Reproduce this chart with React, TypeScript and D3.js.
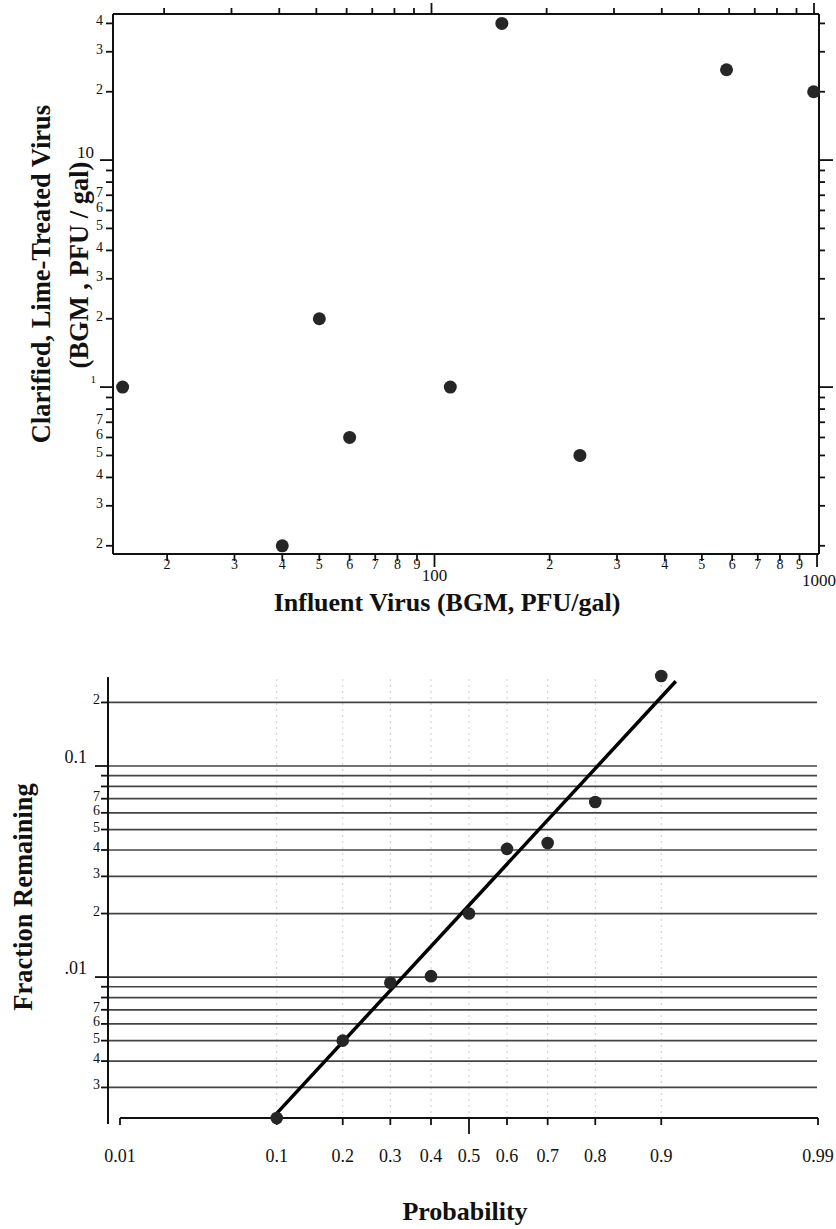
import React from "react";
import * as d3 from "d3";

// ---------- Top chart data ----------
const influent = [15.3, 40, 50, 60, 110, 150, 240, 580, 980];
const treated = [1, 0.2, 2, 0.6, 1, 40, 0.5, 25, 20];

const topXTicks = [20, 30, 40, 50, 60, 70, 80, 90, 100, 200, 300, 400, 500, 600, 700, 800, 900, 1000];
const topXLabels = ["2", "3", "4", "5", "6", "7", "8", "9", "100", "2", "3", "4", "5", "6", "7", "8", "9", "1000"];
const topXMajor = [100, 1000];

const topYTicks = [0.2, 0.3, 0.4, 0.5, 0.6, 0.7, 0.8, 0.9, 1, 2, 3, 4, 5, 6, 7, 8, 9, 10, 20, 30, 40];
const topYLabels = ["2", "3", "4", "5", "6", "7", "", "", "1", "2", "3", "4", "5", "6", "7", "", "", "10", "2", "3", "4"];
const topYMajor = [1, 10];

// ---------- Bottom chart data ----------
const probability = [0.1, 0.2, 0.3, 0.4, 0.5, 0.6, 0.7, 0.8, 0.9];
const fraction = [0.00215, 0.005, 0.0094, 0.0101, 0.02, 0.0405, 0.0432, 0.0675, 0.267];
const fitProb = [0.1, 0.916];
const fitFraction = [0.00226, 0.252];

const probTicks = [0.01, 0.1, 0.2, 0.3, 0.4, 0.5, 0.6, 0.7, 0.8, 0.9, 0.99];
const probLabels = ["0.01", "0.1", "0.2", "0.3", "0.4", "0.5", "0.6", "0.7", "0.8", "0.9", "0.99"];
const probGrid = [0.1, 0.2, 0.3, 0.4, 0.5, 0.6, 0.7, 0.8, 0.9];

const fracTicks = [0.2, 0.1, 0.09, 0.08, 0.07, 0.06, 0.05, 0.04, 0.03, 0.02, 0.01, 0.009, 0.008, 0.007, 0.006, 0.005, 0.004, 0.003];
const fracLabels = ["2", "0.1", "", "", "7", "6", "5", "4", "3", "2", ".01", "", "", "7", "6", "5", "4", "3"];
const fracMajor = [0.1, 0.01];

// inverse standard normal CDF (Acklam) for probability axis
function probit(p: number): number {
  const a = [-3.969683028665376e1, 2.209460984245205e2, -2.759285104469687e2, 1.38357751867269e2, -3.066479806614716e1, 2.506628277459239];
  const b = [-5.447609879822406e1, 1.615858368580409e2, -1.556989798598866e2, 6.680131188771972e1, -1.328068155288572e1];
  const c = [-7.784894002430293e-3, -3.223964580411365e-1, -2.400758277161838, -2.549671324507973, 4.374664141464968, 2.938163982698783];
  const d = [7.784695709041462e-3, 3.224671290700398e-1, 2.445134137142996, 3.754408661907416];
  const plow = 0.02425;
  if (p < plow) {
    const q = Math.sqrt(-2 * Math.log(p));
    return (((((c[0] * q + c[1]) * q + c[2]) * q + c[3]) * q + c[4]) * q + c[5]) / ((((d[0] * q + d[1]) * q + d[2]) * q + d[3]) * q + 1);
  }
  if (p <= 1 - plow) {
    const q = p - 0.5;
    const r = q * q;
    return ((((((a[0] * r + a[1]) * r + a[2]) * r + a[3]) * r + a[4]) * r + a[5]) * q) / (((((b[0] * r + b[1]) * r + b[2]) * r + b[3]) * r + b[4]) * r + 1);
  }
  const q = Math.sqrt(-2 * Math.log(1 - p));
  return -(((((c[0] * q + c[1]) * q + c[2]) * q + c[3]) * q + c[4]) * q + c[5]) / ((((d[0] * q + d[1]) * q + d[2]) * q + d[3]) * q + 1);
}

const FONT = "'Liberation Serif', 'Times New Roman', Times, serif";

export default function App() {
  // top chart geometry
  const tL = 113, tR = 819, tT = 14, tB = 554;
  const xT = d3.scaleLog().domain([14.44, 1012]).range([tL, tR]);
  const yT = d3.scaleLog().domain([0.184, 44]).range([tB, tT]);

  // bottom chart geometry
  const bAxisX = 108, bL = 120, bR = 818, bTop = 677, bB = 1118, gridR = 817;
  const zDom = [probit(0.01), probit(0.99)];
  const zScale = d3.scaleLinear().domain(zDom).range([bL, bR]);
  const xB = (p: number) => zScale(probit(p));
  const yB = d3.scaleLog().domain([0.00215, 0.264]).range([bB, bTop]);

  const fitLine = d3.line<number>()
    .x((_, i) => xB(fitProb[i]))
    .y((_, i) => yB(fitFraction[i]));

  const ink = "#111";
  return (
    <svg width={836} height={1229} style={{ position: "absolute", left: 0, top: 0, background: "#fff" }} fontFamily={FONT}>
      <rect x={0} y={0} width={836} height={1229} fill="#fff" />
      {/* ================= TOP CHART ================= */}
      <g>
        <line x1={tL} y1={tT} x2={tL} y2={tB} stroke={ink} strokeWidth={2} />
        <line x1={tL} y1={tB} x2={tR} y2={tB} stroke={ink} strokeWidth={2} />
        <line x1={tL} y1={tT} x2={tR} y2={tT} stroke={ink} strokeWidth={2} />
        <line x1={tR} y1={tT} x2={tR} y2={tB} stroke={ink} strokeWidth={2} />
        {topXTicks.map((v, i) => {
          const x = xT(v);
          const major = topXMajor.includes(v);
          return (
            <g key={"tx" + i}>
              <line x1={x} y1={tB} x2={x} y2={tB + (major ? 13 : 7)} stroke={ink} strokeWidth={1.8} />
              <line x1={x - 3} y1={tT} x2={x - 3} y2={tT - (major ? 11 : 6)} stroke={ink} strokeWidth={1.8} />
              <text
                x={v === 1000 ? x + 2 : x}
                y={v === 1000 ? 586 : v === 100 ? 581 : 569}
                textAnchor="middle"
                fontSize={major ? 17 : 14}
                fill={ink}
              >
                {topXLabels[i]}
              </text>
            </g>
          );
        })}
        {topYTicks.map((v, i) => {
          const y = yT(v);
          const major = topYMajor.includes(v);
          const lbl = topYLabels[i];
          return (
            <g key={"ty" + i}>
              <line x1={tL} y1={y} x2={tL - (major ? 13 : 7)} y2={y} stroke={ink} strokeWidth={1.8} />
              <line x1={tR} y1={y} x2={tR + (major ? 14 : 6)} y2={y} stroke={ink} strokeWidth={1.8} />
              {lbl && (
                <text
                  x={v === 10 ? 94 : v === 1 ? 96 : 103}
                  y={v === 10 ? y - 2 : v === 1 ? y - 4 : y + 2}
                  textAnchor="end"
                  fontSize={v === 10 ? 17 : v === 1 ? 11 : 14}
                  fill={ink}
                >
                  {lbl}
                </text>
              )}
            </g>
          );
        })}
        {influent.map((v, i) => (
          <circle key={"tp" + i} cx={xT(v)} cy={yT(treated[i])} r={6.5} fill="#262626" />
        ))}
        <text x={447} y={611} textAnchor="middle" fontSize={26} fontWeight={700} fill={ink}>
          Influent Virus (BGM, PFU/gal)
        </text>
        <text transform="translate(50,274) rotate(-90)" textAnchor="middle" fontSize={26.5} fontWeight={700} fill={ink}>
          Clarified, Lime-Treated Virus
        </text>
        <text transform="translate(88,265) rotate(-90)" textAnchor="middle" fontSize={26.5} fontWeight={700} fill={ink}>
          (BGM , PFU / gal)
        </text>
      </g>

      {/* ================= BOTTOM CHART ================= */}
      <g>
        {probGrid.map((p, i) => (
          <line key={"vg" + i} x1={xB(p)} y1={bTop + 2} x2={xB(p)} y2={bB} stroke="#cccccc" strokeWidth={1} strokeDasharray="2,4" />
        ))}
        {fracTicks.map((v, i) => {
          const y = yB(v);
          const major = fracMajor.includes(v);
          const lbl = fracLabels[i];
          return (
            <g key={"fy" + i}>
              <line x1={bAxisX} y1={y} x2={gridR} y2={y} stroke="#444" strokeWidth={1.7} />
              <line x1={bAxisX} y1={y} x2={bAxisX - (major ? 13 : 7)} y2={y} stroke={ink} strokeWidth={1.8} />
              {lbl && (
                <text
                  x={major ? 87 : 100}
                  y={major ? y - 3 : y + 2}
                  textAnchor="end"
                  fontSize={major ? 18 : 14}
                  fill={ink}
                >
                  {lbl}
                </text>
              )}
            </g>
          );
        })}
        <line x1={bAxisX} y1={bTop} x2={bAxisX} y2={bB + 6} stroke={ink} strokeWidth={2} />
        <line x1={bL} y1={bB} x2={bR} y2={bB} stroke={ink} strokeWidth={2} />
        {probTicks.map((p, i) => {
          const x = xB(p);
          const major = p === 0.5;
          return (
            <g key={"px" + i}>
              <line x1={x} y1={bB} x2={x} y2={bB + (major ? 16 : 7)} stroke={ink} strokeWidth={1.8} />
              <text x={x} y={1162} textAnchor="middle" fontSize={18} fill={ink}>
                {probLabels[i]}
              </text>
            </g>
          );
        })}
        <path d={fitLine(fitProb) || ""} fill="none" stroke="#000" strokeWidth={3.5} />
        {probability.map((p, i) => (
          <circle key={"bp" + i} cx={xB(p)} cy={yB(fraction[i])} r={6.3} fill="#262626" />
        ))}
        <text x={465} y={1220} textAnchor="middle" fontSize={26} fontWeight={700} fill={ink}>
          Probability
        </text>
        <text transform="translate(32,897) rotate(-90)" textAnchor="middle" fontSize={26.5} fontWeight={700} fill={ink}>
          Fraction Remaining
        </text>
      </g>
    </svg>
  );
}
